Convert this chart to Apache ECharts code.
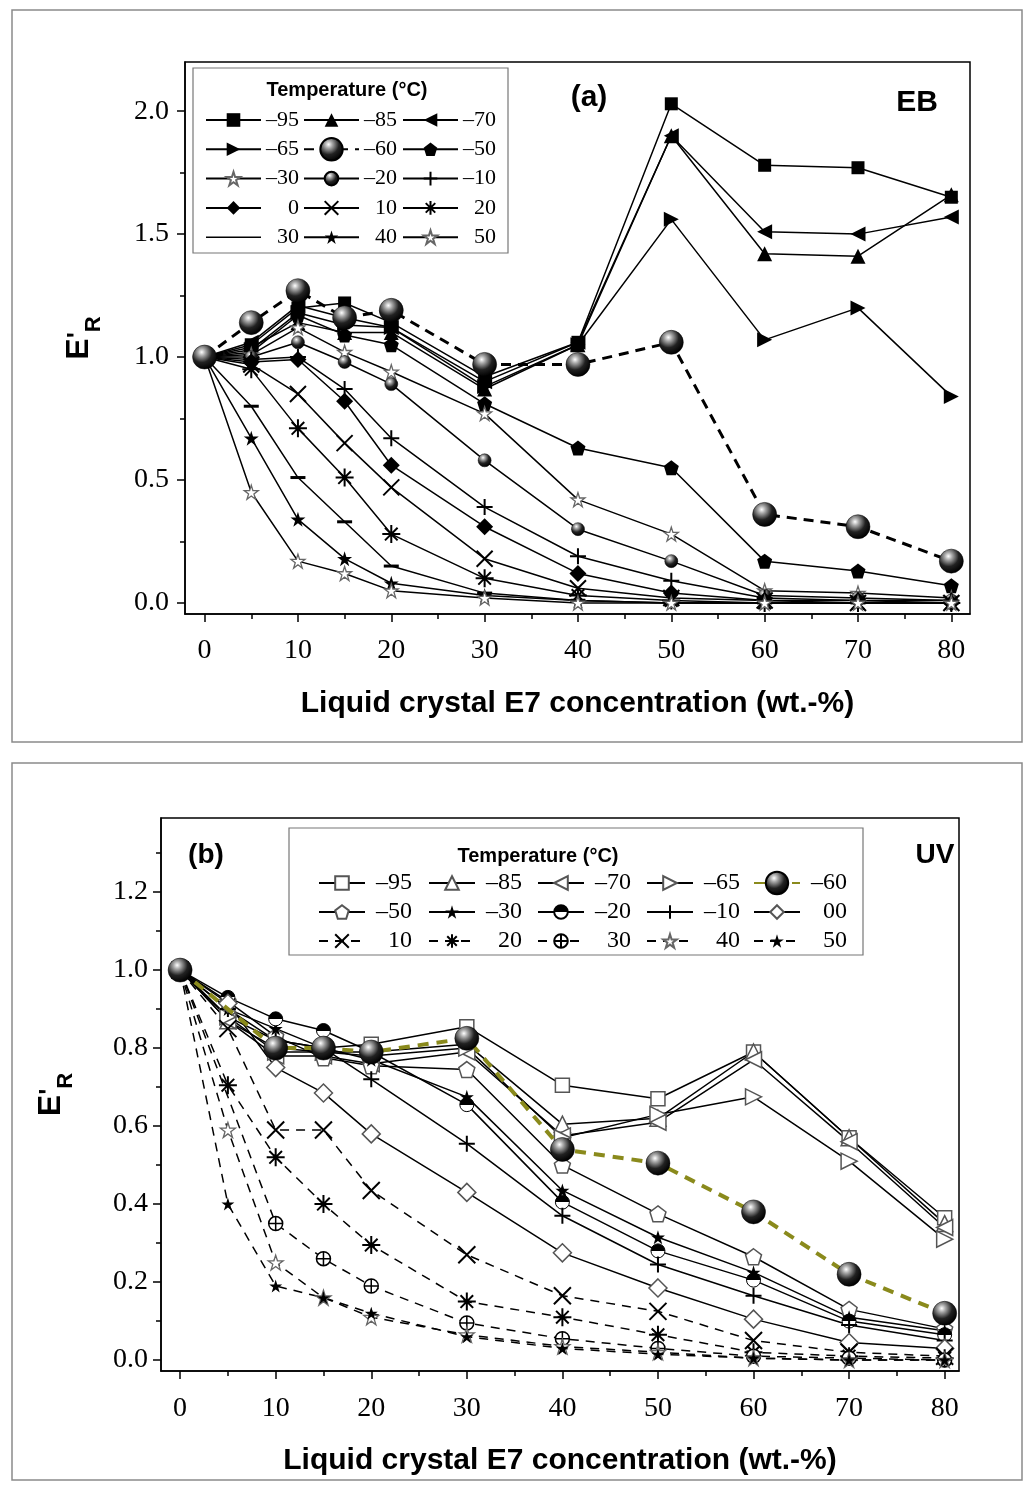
<!DOCTYPE html>
<html><head><meta charset="utf-8">
<script src="https://cdn.jsdelivr.net/npm/echarts@6/dist/echarts.min.js"></script>
<style>html,body{margin:0;padding:0;background:#fff}#c{width:1033px;height:1485px}</style>
</head><body><div id="c"></div>
<script>
// ---------- data ----------
const conc = [0, 5, 10, 15, 20, 30, 40, 50, 60, 70, 80];
const xTicks = [0, 10, 20, 30, 40, 50, 60, 70, 80];
const xMinor = [5, 15, 25, 35, 45, 55, 65, 75];
const yTicksA = [0, 0.5, 1.0, 1.5, 2.0];
const yMinorA = [0.25, 0.75, 1.25, 1.75];
const yTicksB = [0, 0.2, 0.4, 0.6, 0.8, 1.0, 1.2];
const yMinorB = [0.1, 0.3, 0.5, 0.7, 0.9, 1.1, 1.3];

// (a) EB
const eb_m95 = [1.00, 1.05, 1.20, 1.22, 1.14, 0.92, 1.06, 2.03, 1.78, 1.77, 1.65];
const eb_m85 = [1.00, 1.04, 1.14, 1.10, 1.10, 0.87, 1.05, 1.90, 1.42, 1.41, 1.66];
const eb_m70 = [1.00, 1.06, 1.21, 1.16, 1.12, 0.90, 1.06, 1.90, 1.51, 1.50, 1.57];
const eb_m65 = [1.00, 1.03, 1.18, 1.13, 1.12, 0.88, 1.05, 1.56, 1.07, 1.20, 0.84];
const eb_m60 = [1.00, 1.14, 1.27, 1.16, 1.19, 0.97, 0.97, 1.06, 0.36, 0.31, 0.17];
const eb_m50 = [1.00, 1.02, 1.17, 1.09, 1.05, 0.81, 0.63, 0.55, 0.17, 0.13, 0.07];
const eb_m30 = [1.00, 1.01, 1.12, 1.02, 0.94, 0.77, 0.42, 0.28, 0.05, 0.04, 0.02];
const eb_m20 = [1.00, 1.00, 1.06, 0.98, 0.89, 0.58, 0.30, 0.17, 0.03, 0.02, 0.01];
const eb_m10 = [1.00, 0.99, 1.00, 0.87, 0.67, 0.39, 0.19, 0.09, 0.02, 0.01, 0.01];
const eb_0   = [1.00, 0.98, 0.99, 0.82, 0.56, 0.31, 0.12, 0.04, 0.01, 0.01, 0.00];
const eb_10  = [1.00, 0.97, 0.85, 0.65, 0.47, 0.18, 0.06, 0.02, 0.01, 0.00, 0.00];
const eb_20  = [1.00, 0.95, 0.71, 0.51, 0.28, 0.10, 0.03, 0.01, 0.00, 0.00, 0.00];
const eb_30  = [1.00, 0.80, 0.51, 0.33, 0.15, 0.04, 0.01, 0.00, 0.00, 0.00, 0.00];
const eb_40  = [1.00, 0.67, 0.34, 0.18, 0.08, 0.03, 0.01, 0.00, 0.00, 0.00, 0.00];
const eb_50  = [1.00, 0.45, 0.17, 0.12, 0.05, 0.02, 0.00, 0.00, 0.00, 0.00, 0.00];

// (b) UV  (null = no measurement at that concentration)
const uv_m95 = [1.00, 0.88, 0.82, 0.80, 0.81, 0.855, 0.705, 0.67, 0.79, 0.57, 0.365];
const uv_m85 = [1.00, 0.87, 0.80, 0.79, 0.79, 0.81, 0.605, 0.62, 0.79, 0.57, 0.35];
const uv_m70 = [1.00, 0.87, 0.78, 0.78, 0.76, 0.79, 0.575, 0.61, 0.77, 0.56, 0.34];
const uv_m65 = [1.00, 0.88, 0.79, 0.79, 0.78, 0.80, 0.57, 0.63, 0.675, 0.51, 0.31];
const uv_m60 = [1.00, null, 0.80, 0.80, 0.79, 0.825, 0.54, 0.505, 0.38, 0.22, 0.12];
const uv_m50 = [1.00, 0.92, 0.83, 0.775, 0.755, 0.745, 0.50, 0.375, 0.265, 0.13, 0.08];
const uv_m30 = [1.00, 0.90, 0.85, 0.80, 0.77, 0.675, 0.435, 0.315, 0.225, 0.11, 0.075];
const uv_m20 = [1.00, 0.93, 0.875, 0.845, 0.79, 0.655, 0.405, 0.28, 0.205, 0.10, 0.065];
const uv_m10 = [1.00, 0.90, 0.82, 0.80, 0.72, 0.555, 0.37, 0.245, 0.165, 0.09, 0.05];
const uv_00  = [1.00, 0.915, 0.75, 0.685, 0.58, 0.43, 0.275, 0.185, 0.105, 0.045, 0.03];
const uv_10  = [1.00, 0.85, 0.59, 0.59, 0.435, 0.27, 0.165, 0.125, 0.05, 0.02, 0.01];
const uv_20  = [1.00, 0.705, 0.52, 0.40, 0.295, 0.15, 0.11, 0.065, 0.02, 0.01, 0.005];
const uv_30  = [1.00, null, 0.35, 0.26, 0.19, 0.095, 0.055, 0.03, 0.01, 0.005, 0.00];
const uv_40  = [1.00, 0.59, 0.25, 0.16, 0.11, 0.065, 0.035, 0.02, 0.005, 0.00, 0.00];
const uv_50  = [1.00, 0.40, 0.19, 0.16, 0.12, 0.06, 0.03, 0.015, 0.005, 0.00, 0.00];

// ---------- styling ----------
const SYM = {
  star: 'path://M50,0 L61.2,34.5 L97.6,34.5 L68.2,55.9 L79.4,90.5 L50,69.1 L20.6,90.5 L31.8,55.9 L2.4,34.5 L38.8,34.5 Z',
  pent: 'path://M50,0 L97.6,34.5 L79.4,90.5 L20.6,90.5 L2.4,34.5 Z',
  triL: 'path://M0,50 L100,0 L100,100 Z',
  triR: 'path://M100,50 L0,0 L0,100 Z',
  plus: 'path://M50,0 L50,100 M0,50 L100,50',
  cross: 'path://M0,0 L100,100 M100,0 L0,100',
  aster: 'path://M50,0 L50,100 M0,50 L100,50 M15,15 L85,85 M85,15 L15,85',
  dash: 'path://M0,0 L100,0 L100,25 L0,25 Z',
  oplus: 'path://M50,0 A50,50 0 1 1 50,100 A50,50 0 1 1 50,0 Z M50,0 L50,100 M0,50 L100,50'
};
const sphere = {type: 'radial', x: 0.38, y: 0.3, r: 0.7, colorStops: [
  {offset: 0, color: '#ffffff'}, {offset: 0.22, color: '#a8a8a8'}, {offset: 0.6, color: '#222'}, {offset: 1, color: '#000'}]};
const halfFill = {type: 'linear', x: 0, y: 0, x2: 0, y2: 1, colorStops: [
  {offset: 0, color: '#000'}, {offset: 0.5, color: '#000'}, {offset: 0.5, color: '#fff'}, {offset: 1, color: '#fff'}]};
const OLIVE = '#8a8a1c';

const solid = {color: '#000', width: 1.5, type: 'solid'};
const dashedB = {color: '#000', width: 1.5, type: [9, 7]};

const fillBlack = {color: '#000', borderColor: '#000', borderWidth: 0};
const strokeBlack = {color: '#000', borderColor: '#000', borderWidth: 2};
const openGray = {color: '#fff', borderColor: '#555', borderWidth: 1.5};
const openStar = {color: '#fff', borderColor: '#666', borderWidth: 1.3};

function mk(grid, name, vals, symbol, size, item, line, z) {
  return {
    type: 'line', name: name, xAxisIndex: grid * 2, yAxisIndex: grid * 2,
    data: vals.map((v, i) => [conc[i], v]).filter(p => p[1] !== null),
    symbol: symbol, symbolSize: size, itemStyle: item, lineStyle: line,
    z: z || 2, animation: false, emphasis: {disabled: true}
  };
}

const series = [
  mk(0, 'a–95', eb_m95, 'rect', 13, fillBlack, solid),
  mk(0, 'a–85', eb_m85, 'triangle', 15, fillBlack, solid),
  mk(0, 'a–70', eb_m70, SYM.triL, 15, fillBlack, solid),
  mk(0, 'a–65', eb_m65, SYM.triR, 15, fillBlack, solid),
  mk(0, 'a–50', eb_m50, SYM.pent, 15, fillBlack, solid),
  mk(0, 'a–30', eb_m30, SYM.star, 14, openStar, solid),
  mk(0, 'a–20', eb_m20, 'circle', 13, {color: sphere, borderColor: '#000', borderWidth: 0.5}, solid),
  mk(0, 'a–10', eb_m10, SYM.plus, 16, strokeBlack, solid),
  mk(0, 'a0', eb_0, 'diamond', 17, fillBlack, solid),
  mk(0, 'a10', eb_10, SYM.cross, 16, strokeBlack, solid),
  mk(0, 'a20', eb_20, SYM.aster, 18, strokeBlack, solid),
  mk(0, 'a30', eb_30, SYM.dash, [15, 3], fillBlack, solid),
  mk(0, 'a40', eb_40, SYM.star, 15, fillBlack, solid),
  mk(0, 'a50', eb_50, SYM.star, 14, openStar, solid),
  mk(0, 'a–60', eb_m60, 'circle', 24, {color: sphere, borderColor: '#000', borderWidth: 0.5}, {color: '#000', width: 3, type: [10, 7]}, 3),

  mk(1, 'b–95', uv_m95, 'rect', 14, openGray, solid),
  mk(1, 'b–85', uv_m85, 'triangle', 16, openGray, solid),
  mk(1, 'b–70', uv_m70, SYM.triL, 16, openGray, solid),
  mk(1, 'b–65', uv_m65, SYM.triR, 16, openGray, solid),
  mk(1, 'b–50', uv_m50, SYM.pent, 16, openGray, solid),
  mk(1, 'b–30', uv_m30, SYM.star, 14, fillBlack, solid),
  mk(1, 'b–20', uv_m20, 'circle', 14, {color: halfFill, borderColor: '#000', borderWidth: 1}, solid),
  mk(1, 'b–10', uv_m10, SYM.plus, 16, strokeBlack, solid),
  mk(1, 'b00', uv_00, 'diamond', 18, openGray, solid),
  mk(1, 'b10', uv_10, SYM.cross, 17, strokeBlack, dashedB),
  mk(1, 'b20', uv_20, SYM.aster, 18, strokeBlack, dashedB),
  mk(1, 'b30', uv_30, SYM.oplus, 14, {color: '#fff', borderColor: '#000', borderWidth: 1.5}, dashedB),
  mk(1, 'b40', uv_40, SYM.star, 15, openStar, dashedB),
  mk(1, 'b50', uv_50, SYM.star, 13, fillBlack, dashedB),
  mk(1, 'b–60', uv_m60, 'circle', 24, {color: sphere, borderColor: '#000', borderWidth: 0.5}, {color: OLIVE, width: 4, type: [11, 8]}, 3)
];

// ---------- axes ----------
const SERIF = 'Liberation Serif';
const SANS = 'Liberation Sans';
function xAx(grid, min, max, labMargin, nameGap) {
  return [{
    gridIndex: grid, type: 'value', min: min, max: max, position: 'bottom',
    axisLine: {show: true, onZero: false, lineStyle: {color: '#000', width: 1.5}},
    axisTick: {show: true, customValues: xTicks, length: 8, lineStyle: {color: '#000', width: 1.5}},
    axisLabel: {customValues: xTicks, fontFamily: SERIF, fontSize: 28, color: '#000', margin: labMargin},
    splitLine: {show: false},
    name: 'Liquid crystal E7 concentration (wt.-%)', nameLocation: 'middle', nameGap: nameGap,
    nameTextStyle: {fontFamily: SANS, fontWeight: 'bold', fontSize: 30, color: '#000'}
  }, {
    gridIndex: grid, type: 'value', min: min, max: max, position: 'bottom',
    axisLine: {show: false, onZero: false},
    axisTick: {show: true, customValues: xMinor, length: 5, lineStyle: {color: '#000', width: 1.5}},
    axisLabel: {show: false}, splitLine: {show: false}
  }];
}
const yName = "{e|E}{p|'}{r|R}";
const yRich = {
  e: {fontFamily: SANS, fontWeight: 'bold', fontSize: 32, lineHeight: 34, padding: [0, 0, 10, 0], verticalAlign: 'bottom', color: '#000'},
  p: {fontFamily: SANS, fontWeight: 'bold', fontSize: 26, lineHeight: 34, padding: [0, 0, 14, 0], verticalAlign: 'bottom', color: '#000'},
  r: {fontFamily: SANS, fontWeight: 'bold', fontSize: 22, lineHeight: 22, verticalAlign: 'bottom', color: '#000'}
};
function yAx(grid, min, max, ticks, minor, labMargin, nameGap) {
  return [{
    gridIndex: grid, type: 'value', min: min, max: max, position: 'left',
    axisLine: {show: true, onZero: false, lineStyle: {color: '#000', width: 1.5}},
    axisTick: {show: true, customValues: ticks, length: 8, lineStyle: {color: '#000', width: 1.5}},
    axisLabel: {customValues: ticks, fontFamily: SERIF, fontSize: 28, color: '#000', margin: labMargin,
      formatter: v => Number(v).toFixed(1)},
    splitLine: {show: false},
    name: yName, nameLocation: 'middle', nameGap: nameGap, nameRotate: 90,
    nameTextStyle: {rich: yRich}
  }, {
    gridIndex: grid, type: 'value', min: min, max: max, position: 'left',
    axisLine: {show: false, onZero: false},
    axisTick: {show: true, customValues: minor, length: 5, lineStyle: {color: '#000', width: 1.5}},
    axisLabel: {show: false}, splitLine: {show: false}
  }];
}

// ---------- legends ----------
// every legend item is 28 px tall (text lineHeight 28), so row centre = top + 14 + k*(28+gap)
function leg(names, left, top, iw, ih, tw, gap, fs) {
  return {
    orient: 'vertical', left: left, top: top, itemWidth: iw, itemHeight: ih, itemGap: gap,
    padding: 0, selectedMode: false, z: 6,
    data: names,
    formatter: n => '{t|' + n.slice(1) + '}',
    textStyle: {lineHeight: 28, rich: {t: {width: tw, align: 'right', fontFamily: SERIF, fontSize: fs, color: '#000', lineHeight: 28}}}
  };
}
const dashIcon = 'path://M0,0 L100,0 L100,3 L0,3 Z';
const GA = 29.3 - 28, GB = 29 - 28;
const legends = [
  leg(['a–95', 'a–65', 'a–30', 'a0', {name: 'a30', icon: dashIcon}], 205, 106, 55, 17, 33, GA, 22),
  leg(['a–85'], 303, 106, 55, 17, 33, GA, 22),
  leg(['a–60'], 303, 106 + 29.3, 55, 28, 33, GA, 22),
  leg(['a–20', 'a10', 'a40'], 303, 106 + 2 * 29.3, 55, 17, 33, GA, 22),
  leg(['a–70', 'a–50', 'a–10', 'a20', 'a50'], 402, 106, 55, 17, 33, GA, 22),
  leg(['b–95', 'b–50', 'b10'], 318, 869, 46, 17, 42, GB, 24),
  leg(['b–85', 'b–30', 'b20'], 428, 869, 46, 17, 42, GB, 24),
  leg(['b–70', 'b–20', 'b30'], 537, 869, 46, 17, 42, GB, 24),
  leg(['b–65', 'b–10', 'b40'], 646, 869, 46, 17, 42, GB, 24),
  leg(['b–60'], 753, 869, 46, 28, 42, GB, 24),
  leg(['b00', 'b50'], 753, 869 + 29, 46, 17, 42, GB, 24)
];

function txt(x, y, text, size, family, weight) {
  return {type: 'text', x: x, y: y, z: 7,
    style: {text: text, fontSize: size, fontFamily: family || SANS, fontWeight: weight || 'bold', fill: '#000', align: 'center', verticalAlign: 'middle'}};
}
const graphics = [
  {type: 'rect', shape: {x: 12, y: 10, width: 1010, height: 732}, style: {fill: 'none', stroke: '#8a8a8a', lineWidth: 1.5}, z: 0},
  {type: 'rect', shape: {x: 12, y: 763, width: 1010, height: 717}, style: {fill: 'none', stroke: '#8a8a8a', lineWidth: 1.5}, z: 0},
  {type: 'rect', shape: {x: 193, y: 68, width: 315, height: 185}, style: {fill: '#fff', stroke: '#777', lineWidth: 1.2}, z: 3},
  {type: 'rect', shape: {x: 289, y: 828, width: 574, height: 127}, style: {fill: '#fff', stroke: '#777', lineWidth: 1.2}, z: 3},
  txt(347, 90, 'Temperature (°C)', 20),
  txt(538, 856, 'Temperature (°C)', 20),
  txt(589, 98, '(a)', 30),
  txt(917, 103, 'EB', 30),
  txt(206, 855, '(b)', 28),
  txt(935, 855, 'UV', 28)
];

const chart = echarts.init(document.getElementById('c'), null, {renderer: 'canvas'});
chart.setOption({
  animation: false,
  backgroundColor: '#fff',
  grid: [
    {left: 185, top: 62, width: 785, height: 552, show: true, borderColor: '#000', borderWidth: 1.5, backgroundColor: 'transparent'},
    {left: 161, top: 818, width: 798, height: 553, show: true, borderColor: '#000', borderWidth: 1.5, backgroundColor: 'transparent'}
  ],
  xAxis: [].concat(xAx(0, -2.1, 82, 23, 75), xAx(1, -2, 81.5, 24, 75)),
  yAxis: [].concat(yAx(0, -0.045, 2.2, yTicksA, yMinorA, 16, 80), yAx(1, -0.028, 1.39, yTicksB, yMinorB, 13, 84)),
  legend: legends,
  graphic: graphics,
  series: series
});
</script>
</body></html>
